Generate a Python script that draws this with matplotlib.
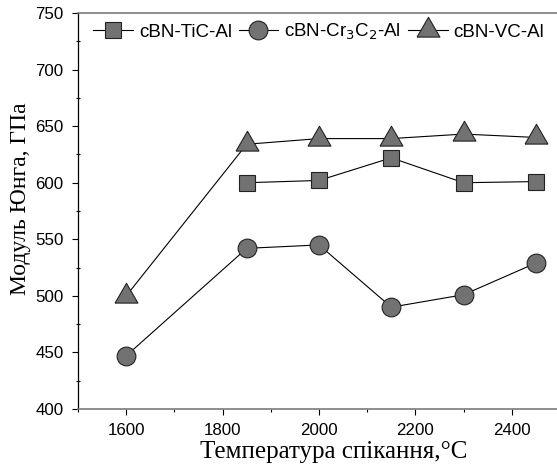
import matplotlib
matplotlib.use("Agg")
import matplotlib.pyplot as plt
from matplotlib.ticker import MultipleLocator
import numpy as np

temps_tic = [1850, 2000, 2150, 2300, 2450]
tic_vals = [600, 602, 622, 600, 601]
temps_cr = [1600, 1850, 2000, 2150, 2300, 2450]
cr_vals = [447, 542, 545, 490, 501, 529]
temps_vc = [1600, 1850, 2000, 2150, 2300, 2450]
vc_vals = [500, 634, 639, 639, 643, 640]

labels = ["cBN-TiC-Al", "cBN-Cr$_3$C$_2$-Al", "cBN-VC-Al"]
xticks = [1600, 1800, 2000, 2200, 2400]
yticks = [400, 450, 500, 550, 600, 650, 700, 750]

W, H = 557, 468
fig = plt.figure(figsize=(W / 100, H / 100), dpi=100)
ax_l, ax_r, ax_t, ax_b = 78, 560, 13, 409
ax = fig.add_axes([ax_l / W, (H - ax_b) / H, (ax_r - ax_l) / W, (ax_b - ax_t) / H])

fill = "#727272"
edge = "#222222"
tri = [(-1, -0.577), (1, -0.577), (0, 1.155), (-1, -0.577)]

common = dict(color="black", lw=0.8, markerfacecolor=fill, markeredgecolor=edge, markeredgewidth=0.8)
ax.plot(temps_tic, tic_vals, marker="s", ms=12, label=labels[0], **common)
ax.plot(temps_cr, cr_vals, marker="o", ms=13.5, label=labels[1], **common)
ax.plot(temps_vc, vc_vals, marker=tri, ms=19, label=labels[2], **common)

ax.set_xlim(1500, 2500)
ax.set_ylim(400, 750)
ax.set_xticks(xticks)
ax.set_yticks(yticks)
ax.xaxis.set_minor_locator(MultipleLocator(100))
ax.yaxis.set_minor_locator(MultipleLocator(25))
ax.tick_params(which="major", direction="out", length=4.5, width=0.8, labelsize=12.2, pad=6)
ax.tick_params(axis="y", which="minor", direction="inout", length=3, width=0.8)
ax.tick_params(axis="x", which="minor", direction="out", length=2.5, width=0.8)
ax.tick_params(axis="x", which="major", length=4, pad=6)
for lab in ax.get_xticklabels() + ax.get_yticklabels():
    lab.set_fontfamily("Liberation Sans")

ax.spines["left"].set_color("black")
ax.spines["bottom"].set_color("#7a7a7a")
ax.spines["top"].set_color("#7a7a7a")
ax.spines["right"].set_visible(False)
for s in ax.spines.values():
    s.set_linewidth(1.2)
ax.spines["left"].set_linewidth(0.9)

ax.set_xlabel("Температура спікання,°C", family="Liberation Serif", fontsize=18)
ax.xaxis.label.set_va("baseline")
ax.xaxis.set_label_coords((334 - ax_l) / (ax_r - ax_l), (ax_b - 458) / (ax_b - ax_t))
ax.set_ylabel("Модуль Юнга, ГПа", family="Liberation Serif", fontsize=17)
ax.yaxis.label.set_va("center")
ax.yaxis.set_label_coords((21 - ax_l) / (ax_r - ax_l), (ax_b - 199) / (ax_b - ax_t))

leg = ax.legend(loc="center left", ncol=3, frameon=False, prop={"family": "Liberation Sans", "size": 13.5},
                bbox_to_anchor=(93 / W, (H - 32) / H), bbox_transform=fig.transFigure,
                handlelength=2.13, handletextpad=0.32, columnspacing=0.35,
                borderaxespad=0.0, borderpad=0.0, markerscale=1.0)

fig.savefig("out.png", dpi=100)
